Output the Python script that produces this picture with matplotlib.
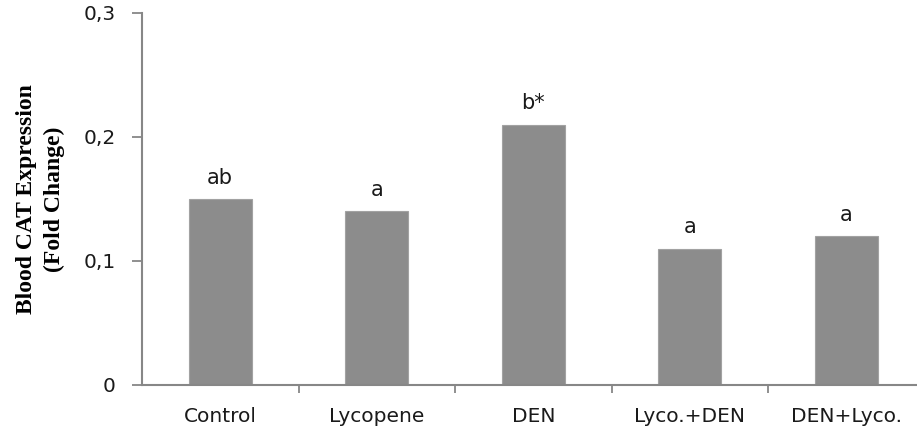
import matplotlib.pyplot as plt
from matplotlib.ticker import FixedLocator

groups = ["Control", "Lycopene", "DEN", "Lyco.+DEN", "DEN+Lyco."]
fold_change = [0.15, 0.14, 0.21, 0.11, 0.12]
letters = ["ab", "a", "b*", "a", "a"]
y_ticks = [0, 0.1, 0.2, 0.3]
y_tick_labels = ["0", "0,1", "0,2", "0,3"]

AXIS_GREY = "#878787"
BAR_GREY = "#8c8c8c"

fig = plt.figure(figsize=(9.17, 4.34), dpi=100)
# axis runs a bit past the right edge, as in the original
ax = fig.add_axes([142 / 917, 1 - 385 / 434, 782.5 / 917, 372 / 434])

x = list(range(len(groups)))
ax.bar(x, fold_change, width=0.4, color=BAR_GREY, edgecolor="#a2a2a2", linewidth=0.8, zorder=2)

for xi, val, lab in zip(x, fold_change, letters):
    ax.annotate(lab, (xi, val), xytext=(0, 8), textcoords="offset points",
                ha="center", va="bottom", fontsize=15, color="#1a1a1a")

ax.set_xlim(-0.5, len(groups) - 0.5)
ax.set_ylim(0, 0.3)
ax.set_yticks(y_ticks)
ax.set_yticklabels(y_tick_labels, fontsize=14.5, color="#1a1a1a")
ax.set_xticks(x)
ax.set_xticklabels(groups, fontsize=14.5, color="#1a1a1a")
ax.tick_params(axis="x", length=0, pad=16)
ax.xaxis.set_minor_locator(FixedLocator([i + 0.5 for i in x]))
ax.tick_params(axis="x", which="minor", length=6, width=1.3, color=AXIS_GREY, direction="out")
ax.tick_params(axis="y", length=7, width=1.3, color=AXIS_GREY, pad=12, direction="out")

for side in ["top", "right"]:
    ax.spines[side].set_visible(False)
for side in ["left", "bottom"]:
    ax.spines[side].set_color(AXIS_GREY)
    ax.spines[side].set_linewidth(1.5)

ax.set_ylabel("Blood CAT Expression\n(Fold Change)", family="Liberation Serif",
              fontweight="bold", fontsize=17, linespacing=1.45, labelpad=13)

fig.savefig("out.png", dpi=100)
